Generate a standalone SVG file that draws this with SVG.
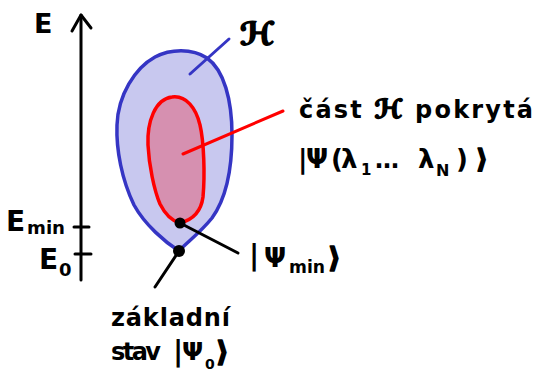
<svg xmlns="http://www.w3.org/2000/svg" width="537" height="372" viewBox="0 0 537 372">
<style>
.t{font-family:"DejaVu Sans","Liberation Sans",sans-serif;font-weight:bold;fill:#000}
.th{stroke:#000;stroke-width:1.6;stroke-linejoin:round}
.ln{stroke-width:3;stroke-linecap:round;fill:none}
.blk{stroke:#000}
</style>
<rect width="537" height="372" fill="#fff"/>
<g id="axis">
<line class="ln blk" x1="81" y1="15" x2="81" y2="280"/>
<polyline class="ln blk" points="72,31 81,15 91,28" stroke-linejoin="round"/>
<line class="ln blk" x1="74" y1="227" x2="89" y2="227"/>
<line class="ln blk" x1="75" y1="254" x2="91" y2="254"/>
<text class="t" x="34" y="33" font-size="27">E</text>
<text class="t" x="6" y="231" font-size="28">E</text>
<text class="t" x="27" y="234" font-size="18" textLength="38" lengthAdjust="spacingAndGlyphs">min</text>
<text class="t" x="39" y="269" font-size="28">E</text>
<text class="t" x="59" y="276" font-size="18">0</text>
</g>
<g id="hilbert">
<path d="M179,251 C165,242 145,225 134,205 C122,180 116,150 117,125 C118,95 135,68 155,57 C170,49 192,48 207,58 C224,70 232,100 232,135 C232,170 225,200 212,218 C200,233 185,244 179,251 Z" fill="#c8c8ef" stroke="#3535c4" stroke-width="3.5" stroke-linejoin="round"/>
<text class="t th" x="240" y="45" font-size="32">ℋ</text>
</g>
<g id="covered">
<path d="M180,223 C172,221 165,214 160,204 C154,190 149,165 148,145 C147,122 155,99 172,97 C186,95 196,108 200,125 C204,142 205,175 203,197 C201,212 192,220 180,223 Z" fill="#d690b0" stroke="#ff0000" stroke-width="3.5" stroke-linejoin="round"/>
<text class="t" x="299" y="118" font-size="24" textLength="234" lengthAdjust="spacing">část <tspan class="th" font-size="26">ℋ</tspan> pokrytá</text>
<text class="t" x="298 306 331 341" y="168" font-size="26">|Ψ(λ</text>
<text class="t" x="361" y="175" font-size="15">1</text>
<text class="t" x="375" y="168" font-size="24">…</text>
<text class="t" x="418" y="168" font-size="26">λ</text>
<text class="t" x="436" y="176" font-size="16">N</text>
<text class="t" x="456" y="168" font-size="26">)</text>
<text class="t th" x="476" y="168" font-size="26">⟩</text>
</g>
<g id="psi-min">
<circle cx="180" cy="223" r="5.5" fill="#000"/>
<text class="t" x="249" y="265" font-size="28">|</text>
<text class="t" x="264" y="267" font-size="26">Ψ</text>
<text class="t" x="289" y="273" font-size="17" textLength="36" lengthAdjust="spacingAndGlyphs">min</text>
<text class="t th" x="328" y="267" font-size="28">⟩</text>
</g>
<g id="ground">
<circle cx="179" cy="251" r="6" fill="#000"/>
<text class="t" x="111" y="326" font-size="24" textLength="119" lengthAdjust="spacing">základní</text>
<text class="t" x="111" y="360" font-size="24" textLength="50" lengthAdjust="spacing">stav</text>
<text class="t" x="173" y="361" font-size="28">|</text>
<text class="t" x="182" y="360" font-size="25">Ψ</text>
<text class="t" x="205" y="369" font-size="14">0</text>
<text class="t th" x="216" y="361" font-size="28">⟩</text>
</g>
<g id="connectors">
<line class="ln" stroke="#3535c4" x1="190" y1="74" x2="229" y2="39"/>
<line class="ln" stroke="#ff0000" x1="183" y1="154" x2="283" y2="111"/>
<line class="ln blk" x1="180" y1="223" x2="238" y2="253"/>
<line class="ln blk" x1="179" y1="251" x2="155" y2="287"/>
</g>
</svg>
